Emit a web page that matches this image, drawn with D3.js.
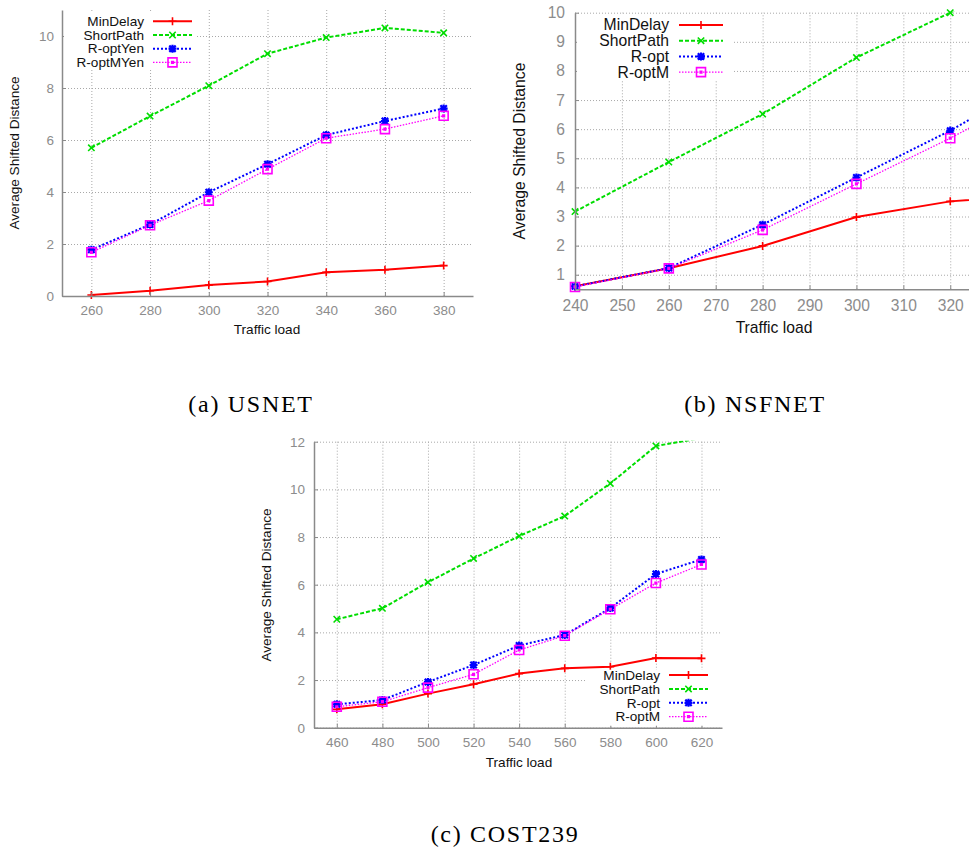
<!DOCTYPE html>
<html>
<head>
<meta charset="utf-8">
<script src="https://cdn.jsdelivr.net/npm/d3@7/dist/d3.min.js"></script>
<style>
  body { margin: 0; background: #fff; }
  text { font-family: "Liberation Sans", Arial, Helvetica, sans-serif; }
</style>
</head>
<body>
<div id="figure"></div>
<script>
// values

var usnetNames = ["MinDelay", "ShortPath", "R-optYen", "R-optMYen"];
var usnetLoad = [260, 280, 300, 320, 340, 360, 380];
var usnetMinDelay = [0.04, 0.20, 0.42, 0.56, 0.91, 1.01, 1.17];
var usnetShortPath = [5.70, 6.92, 8.09, 9.32, 9.94, 10.31, 10.12];
var usnetROptYen = [1.78, 2.75, 3.99, 5.07, 6.19, 6.73, 7.21];
var usnetROptMYen = [1.68, 2.72, 3.67, 4.88, 6.07, 6.42, 6.93];
var usnetXTicks = [260, 280, 300, 320, 340, 360, 380];
var usnetYTicks = [0, 2, 4, 6, 8, 10];

var nsfNames = ["MinDelay", "ShortPath", "R-opt", "R-optM"];
var nsfLoad = [240, 260, 280, 300, 320, 340];
var nsfMinDelay = [0.60, 1.22, 1.99, 2.98, 3.52, 3.77];
var nsfShortPath = [3.17, 4.87, 6.52, 8.46, 10.0, 11.6];
var nsfROpt = [0.60, 1.23, 2.72, 4.34, 5.95, 7.8];
var nsfROptM = [0.58, 1.22, 2.54, 4.12, 5.69, 7.4];
var nsfXTicks = [240, 250, 260, 270, 280, 290, 300, 310, 320];
var nsfYTicks = [1, 2, 3, 4, 5, 6, 7, 8, 9, 10];

var costNames = ["MinDelay", "ShortPath", "R-opt", "R-optM"];
var costLoad = [460, 480, 500, 520, 540, 560, 580, 600, 620];
var costMinDelay = [0.77, 0.98, 1.43, 1.82, 2.27, 2.49, 2.56, 2.92, 2.91];
var costShortPath = [4.55, 5.01, 6.10, 7.10, 8.04, 8.88, 10.25, 11.82, 12.15];
var costROpt = [0.98, 1.16, 1.92, 2.63, 3.45, 3.89, 5.02, 6.45, 7.06];
var costROptM = [0.88, 1.09, 1.68, 2.24, 3.26, 3.86, 4.97, 6.07, 6.85];
var costXTicks = [460, 480, 500, 520, 540, 560, 580, 600, 620];
var costYTicks = [0, 2, 4, 6, 8, 10, 12];

// gnuplot-ish line types, same order as the series
var styles = [
  {color: "#ff0000", dash: null, width: 2, marker: "plus"},
  {color: "#00dd00", dash: "4,2", width: 2, marker: "cross"},
  {color: "#0000ff", dash: "2,2", width: 2, marker: "star"},
  {color: "#ff00ff", dash: "1.5,1.5", width: 1.3, marker: "square"}
];

var svg = d3.select("#figure")
  .append("svg")
  .attr("width", 969)
  .attr("height", 852)
  .style("display", "block");

svg.append("rect").attr("width", 969).attr("height", 852).attr("fill", "#fff");

function markerPath(type, x, y, s) {
  var plus = "M" + (x - s) + "," + y + "H" + (x + s) + "M" + x + "," + (y - s) + "V" + (y + s);
  var k = s * 0.8;
  var cross = "M" + (x - k) + "," + (y - k) + "L" + (x + k) + "," + (y + k) +
              "M" + (x - k) + "," + (y + k) + "L" + (x + k) + "," + (y - k);
  if (type == "plus") return plus;
  if (type == "cross") return cross;
  if (type == "star") return plus + cross;
  return "M" + (x - s) + "," + (y - s) + "h" + (2 * s) + "v" + (2 * s) + "h" + (-2 * s) + "Z" +
         "M" + (x - 0.8) + "," + (y - 0.8) + "h1.6v1.6h-1.6Z";
}

function drawMarker(g, type, x, y, color) {
  var s = type == "square" ? 4.5 : 4;
  g.append("path")
    .attr("d", markerPath(type, x, y, s))
    .attr("fill", "none")
    .attr("stroke", color)
    .attr("stroke-width", type == "star" ? 2.2 : 1.6);
}

function drawPanel(p) {
  var g = svg.append("g")
    .attr("transform", "translate(" + p.left + "," + p.top + ")");

  var x = d3.scaleLinear().domain(p.xDomain).range([0, p.width]);
  var y = d3.scaleLinear().domain(p.yDomain).range([p.height, 0]);

  // dotted grid
  var gx = g.append("g")
    .attr("transform", "translate(0," + p.height + ")")
    .call(d3.axisBottom(x).tickValues(p.xTicks).tickSize(-p.height).tickFormat(""));
  var gy = g.append("g")
    .call(d3.axisLeft(y).tickValues(p.yTicks).tickSize(-p.width).tickFormat(""));
  [gx, gy].forEach(function(a) {
    a.select(".domain").remove();
    a.selectAll("line")
      .attr("stroke", "#a8a8a8")
      .attr("stroke-width", 1)
      .attr("stroke-dasharray", "1,2");
  });

  // series
  var clipId = "clip-" + p.id;
  g.append("clipPath").attr("id", clipId)
    .append("rect").attr("width", p.width).attr("height", p.height + 1).attr("y", -1);

  var plot = g.append("g").attr("clip-path", "url(#" + clipId + ")");

  p.series.forEach(function(values, i) {
    var st = styles[i];
    var data = p.loads.map(function(l, j) { return {x: l, y: values[j]}; });

    plot.append("path")
      .datum(data)
      .attr("fill", "none")
      .attr("stroke", st.color)
      .attr("stroke-width", st.width)
      .attr("stroke-dasharray", st.dash)
      .attr("d", d3.line()
        .x(function(d) { return x(d.x); })
        .y(function(d) { return y(d.y); }));

    data.filter(function(d) {
      return d.x >= p.xDomain[0] && d.x <= p.xDomain[1] &&
             d.y >= p.yDomain[0] && d.y <= p.yDomain[1];
    }).forEach(function(d) {
      drawMarker(g, st.marker, x(d.x), y(d.y), st.color);
    });
  });

  // axes
  var ax = g.append("g")
    .attr("transform", "translate(0," + p.height + ")")
    .call(d3.axisBottom(x).tickValues(p.xTicks).tickSize(-4).tickSizeOuter(0).tickPadding(p.xPad));
  var ay = g.append("g")
    .call(d3.axisLeft(y).tickValues(p.yTicks).tickSize(-4).tickSizeOuter(0).tickPadding(p.yPad));
  [ax, ay].forEach(function(a) {
    a.select(".domain").attr("stroke", "#8a8a8a").attr("stroke-width", 1.5);
    a.selectAll(".tick line").attr("stroke", "#8a8a8a");
    a.selectAll("text")
      .attr("fill", "#8c8c8c")
      .style("font-size", p.tickSize + "px")
      .style("font-family", "'Liberation Sans', Arial, sans-serif");
  });

  // legend (opaque box, like gnuplot's key)
  var lg = p.legend;
  g.append("rect")
    .attr("x", lg.box[0]).attr("y", lg.box[1])
    .attr("width", lg.box[2] - lg.box[0])
    .attr("height", lg.box[3] - lg.box[1])
    .attr("fill", "#fff");

  p.names.forEach(function(name, i) {
    var st = styles[i];
    var ry = lg.y0 + i * lg.gap;
    g.append("text")
      .attr("x", lg.textX)
      .attr("y", ry)
      .attr("dy", "0.35em")
      .attr("text-anchor", "end")
      .attr("fill", "#111")
      .style("font-size", p.labelSize + "px")
      .text(name);
    g.append("line")
      .attr("x1", lg.s1).attr("x2", lg.s2)
      .attr("y1", ry).attr("y2", ry)
      .attr("stroke", st.color)
      .attr("stroke-width", st.width)
      .attr("stroke-dasharray", st.dash);
    drawMarker(g, st.marker, (lg.s1 + lg.s2) / 2, ry, st.color);
  });

  // axis titles
  svg.append("text")
    .attr("x", p.xTitle[0]).attr("y", p.xTitle[1])
    .attr("text-anchor", "middle")
    .attr("fill", "#111")
    .style("font-size", p.labelSize + "px")
    .text("Traffic load");

  svg.append("text")
    .attr("transform", "translate(" + p.yTitle[0] + "," + p.yTitle[1] + ") rotate(-90)")
    .attr("text-anchor", "middle")
    .attr("dy", "0.35em")
    .attr("fill", "#111")
    .style("font-size", p.labelSize + "px")
    .text("Average Shifted Distance");

  // caption
  svg.append("text")
    .attr("x", p.caption[0]).attr("y", p.caption[1])
    .attr("text-anchor", "middle")
    .attr("fill", "#000")
    .style("font-family", "'Liberation Serif', 'Times New Roman', serif")
    .style("font-size", "24px")
    .style("letter-spacing", "1.7px")
    .text(p.captionText);
}

drawPanel({
  id: "usnet",
  left: 62, top: 10, width: 411, height: 286,
  xDomain: [250, 390], yDomain: [0, 11],
  xTicks: usnetXTicks, yTicks: usnetYTicks,
  loads: usnetLoad,
  series: [usnetMinDelay, usnetShortPath, usnetROptYen, usnetROptMYen],
  names: usnetNames,
  tickSize: 13.5, labelSize: 13.6, xPad: 9.4, yPad: 8,
  legend: {box: [2, 2, 133, 60], textX: 82, y0: 11.3, gap: 13.7, s1: 91, s2: 130},
  xTitle: [267, 334], yTitle: [14, 153],
  caption: [251, 412], captionText: "(a) USNET"
});

drawPanel({
  id: "nsfnet",
  left: 575, top: 12.7, width: 394, height: 276.6,
  xDomain: [240, 324], yDomain: [0.5, 10],
  xTicks: nsfXTicks, yTicks: nsfYTicks,
  loads: nsfLoad,
  series: [nsfMinDelay, nsfShortPath, nsfROpt, nsfROptM],
  names: nsfNames,
  tickSize: 15.6, labelSize: 15.7, xPad: 10.6, yPad: 10,
  legend: {box: [2, 1.5, 158, 68], textX: 94, y0: 12.3, gap: 15.7, s1: 104, s2: 148},
  xTitle: [774, 333], yTitle: [519, 151],
  caption: [755, 412], captionText: "(b) NSFNET"
});

drawPanel({
  id: "cost239",
  left: 314, top: 441.7, width: 408, height: 286,
  xDomain: [450, 629], yDomain: [0, 12],
  xTicks: costXTicks, yTicks: costYTicks,
  loads: costLoad,
  series: [costMinDelay, costShortPath, costROpt, costROptM],
  names: costNames,
  tickSize: 13.5, labelSize: 13.6, xPad: 9.7, yPad: 9,
  legend: {box: [273, 228, 408, 284], textX: 346, y0: 233.3, gap: 13.9, s1: 355, s2: 394},
  xTitle: [519, 767], yTitle: [266, 585],
  caption: [505, 842], captionText: "(c) COST239"
});
</script>
</body>
</html>
